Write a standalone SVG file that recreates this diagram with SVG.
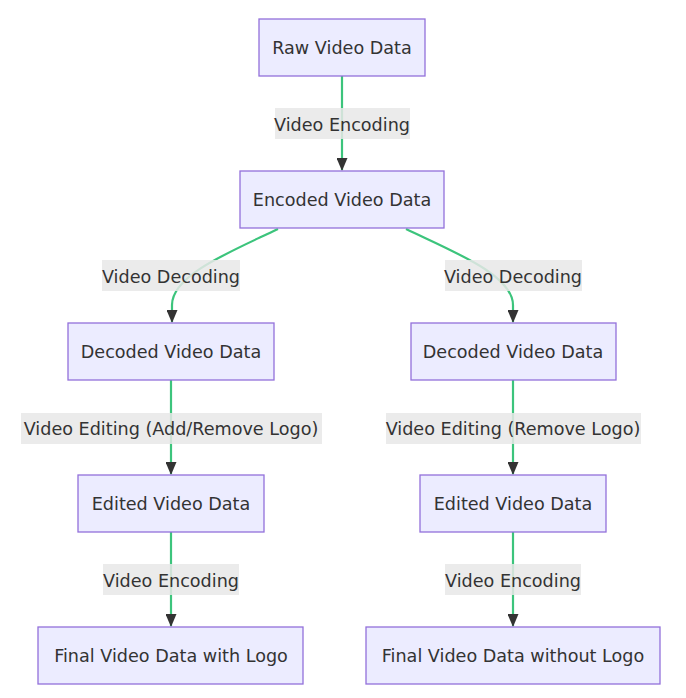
<svg xmlns="http://www.w3.org/2000/svg" width="686" height="698" viewBox="0 0 686 698">
<style>
.node rect{fill:#ECECFF;stroke:#9370DB;stroke-width:1.3}
text{font-family:"DejaVu Sans","Liberation Sans",sans-serif;font-size:17.6px;fill:#333;text-anchor:middle;dominant-baseline:central}
.edge{fill:none;stroke:#3cc47c;stroke-width:2.2;marker-end:url(#arrow)}
.lbl rect{fill:#e8e8e8;opacity:0.85}
</style>
<defs>
<marker id="arrow" viewBox="0 0 13 11" refX="12" refY="5.5" markerWidth="13" markerHeight="11" markerUnits="userSpaceOnUse" orient="auto">
<path d="M0,0 L13,5.5 L0,11 z" fill="#333"/>
</marker>
</defs>
<rect width="686" height="698" fill="#fff"/>
<g id="connectors">
<path class="edge" d="M342,76 L342,170"/>
<path class="edge" d="M278,229 C230,252 172,275 172,305 L172,322"/>
<path class="edge" d="M406,229 C454,252 513,275 513,305 L513,322"/>
<path class="edge" d="M171,380 L171,474"/>
<path class="edge" d="M513,380 L513,474"/>
<path class="edge" d="M171,532 L171,626"/>
<path class="edge" d="M513,532 L513,626"/>
</g>
<g id="edge-labels">
<g class="lbl"><rect x="275" y="108" width="135" height="31"/><text x="342" y="125">Video Encoding</text></g>
<g class="lbl"><rect x="102" y="260" width="138" height="31"/><text x="171" y="277">Video Decoding</text></g>
<g class="lbl"><rect x="445" y="260" width="137" height="31"/><text x="513" y="277">Video Decoding</text></g>
<g class="lbl"><rect x="21" y="413" width="301" height="31"/><text x="171" y="429">Video Editing (Add/Remove Logo)</text></g>
<g class="lbl"><rect x="386" y="413" width="255" height="31"/><text x="513" y="429">Video Editing (Remove Logo)</text></g>
<g class="lbl"><rect x="103" y="564" width="136" height="31"/><text x="171" y="581">Video Encoding</text></g>
<g class="lbl"><rect x="445" y="564" width="136" height="31"/><text x="513" y="581">Video Encoding</text></g>
</g>
<g id="raw" class="node"><rect x="259" y="19" width="166" height="57"/><text x="342" y="48">Raw Video Data</text></g>
<g id="encoded" class="node"><rect x="240" y="171" width="204" height="57"/><text x="342" y="200">Encoded Video Data</text></g>
<g id="decodedL" class="node"><rect x="68" y="323" width="206" height="57"/><text x="171" y="352">Decoded Video Data</text></g>
<g id="decodedR" class="node"><rect x="411" y="323" width="205" height="57"/><text x="513" y="352">Decoded Video Data</text></g>
<g id="editedL" class="node"><rect x="78" y="475" width="186" height="57"/><text x="171" y="504">Edited Video Data</text></g>
<g id="editedR" class="node"><rect x="420" y="475" width="186" height="57"/><text x="513" y="504">Edited Video Data</text></g>
<g id="finalL" class="node"><rect x="38" y="627" width="265" height="57"/><text x="171" y="656">Final Video Data with Logo</text></g>
<g id="finalR" class="node"><rect x="366" y="627" width="294" height="57"/><text x="513" y="656">Final Video Data without Logo</text></g>
</svg>
